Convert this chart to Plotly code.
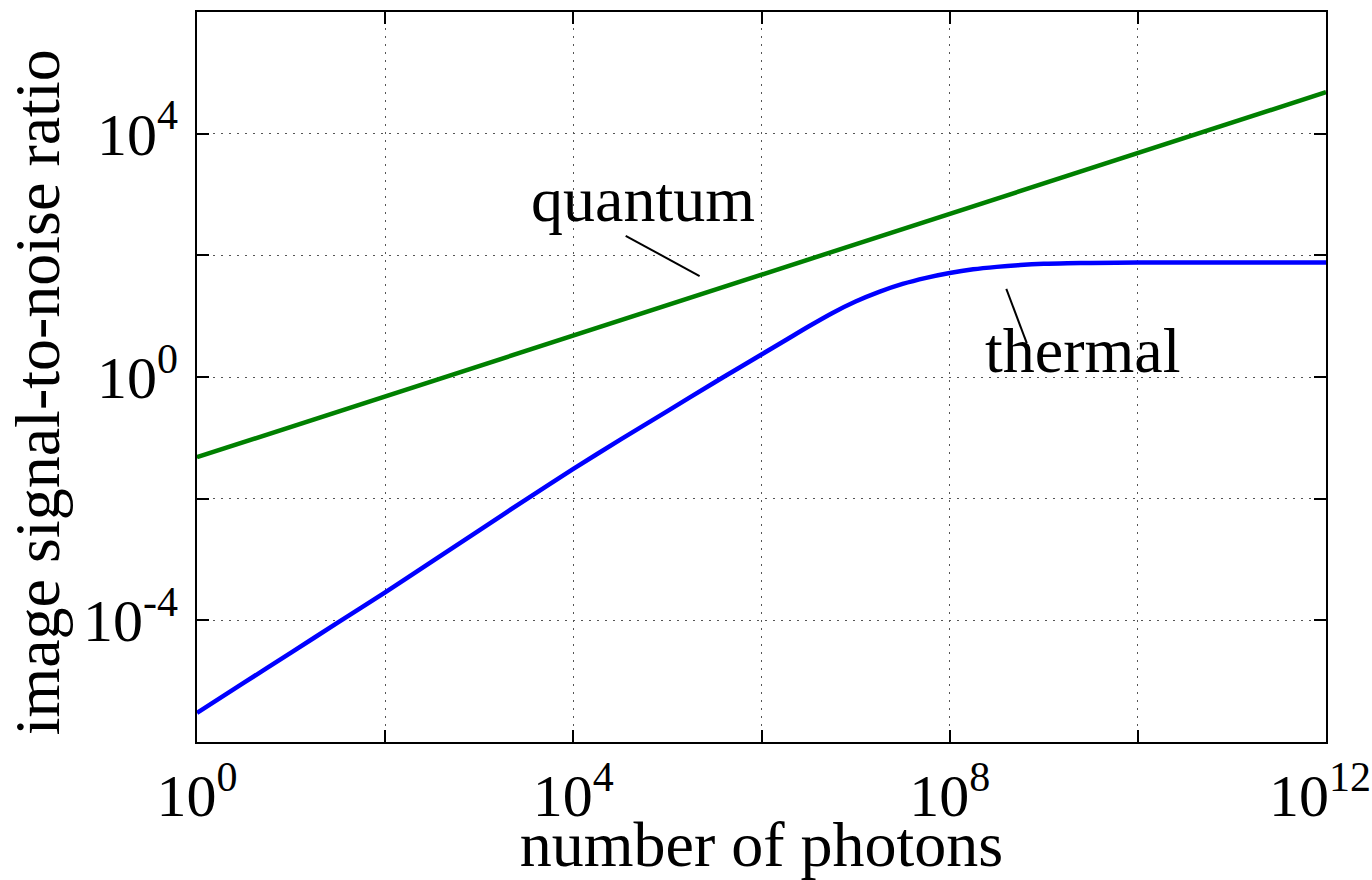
import plotly.graph_objects as go

# ---- data ----
quantum_photons = [1e0, 1e2, 1e4, 1e6, 1e8, 1e10, 1e12]
quantum_snr = [0.048, 0.48, 4.8, 48, 480, 4800, 48000]

thermal_photons = [1e0, 3.16e0, 1e1, 3.16e1, 1e2, 3.16e2, 1e3, 3.16e3, 1e4, 3.16e4,
                   1e5, 3.16e5, 5.62e5, 1e6, 1.78e6, 3.16e6, 5.62e6, 1e7, 1.78e7, 3.16e7,
                   5.62e7, 1e8, 1.78e8, 3.16e8, 5.62e8, 1e9, 1.78e9, 3.16e9,
                   1e10, 3.16e10, 1e11, 3.16e11, 1e12]
thermal_snr = [3.02e-6, 9.44e-6, 2.95e-5, 9.23e-5, 2.88e-4, 9.33e-4, 3.02e-3, 9.77e-3, 3.09e-2, 9.33e-2,
               0.275, 0.813, 1.38, 2.34, 3.98, 6.76, 11.2, 17.4, 25.1, 33.9,
               42.7, 51.3, 58.9, 64.6, 69.2, 72.4, 74.1, 75.0,
               75.9, 75.9, 75.9, 75.9, 75.9]

x_label_vals = [1e0, 1e4, 1e8, 1e12]
x_label_text = ["10<sup>0</sup>", "10<sup>4</sup>", "10<sup>8</sup>", "10<sup>12</sup>\u2009"]
x_minor_vals = [1e2, 1e6, 1e10]
y_label_vals = [1e-4, 1e0, 1e4]
y_label_text = ["10<sup>-4</sup>", "10<sup>0</sup>", "10<sup>4</sup>"]
y_minor_vals = [1e-2, 1e2]

FONT = "Liberation Serif, Times New Roman, serif"

fig = go.Figure()
fig.add_trace(go.Scatter(x=quantum_photons, y=quantum_snr, mode="lines",
                         line=dict(color="#008000", width=4.5), name="quantum",
                         showlegend=False))
fig.add_trace(go.Scatter(x=thermal_photons, y=thermal_snr, mode="lines",
                         line=dict(color="#0000ff", width=4.5, shape="spline", smoothing=0.8),
                         name="thermal", showlegend=False))
# pointer lines for the labels
fig.add_trace(go.Scatter(x=[3.6e4, 2.2e5], y=[209, 45.7], mode="lines",
                         line=dict(color="black", width=2), showlegend=False, hoverinfo="skip"))
fig.add_trace(go.Scatter(x=[4.0e8, 6.6e8], y=[28, 3.6], mode="lines",
                         line=dict(color="black", width=2), showlegend=False, hoverinfo="skip"))

grid = dict(showgrid=True, gridcolor="#555555", gridwidth=1.2, griddash="1.5px,6.5px")
tickstyle = dict(ticks="inside", ticklen=12, tickwidth=1.5, tickcolor="black")

axis_common = dict(
    type="log", showline=True, linecolor="black", linewidth=2, mirror="allticks",
    zeroline=False, automargin=False, ticklabeloverflow="allow",
    tickfont=dict(family=FONT, size=60, color="black"),
    **grid, **tickstyle,
)

fig.update_xaxes(**axis_common, range=[0, 12], tickmode="array",
                 tickvals=x_label_vals, ticktext=x_label_text,
                 minor=dict(tickmode="array", tickvals=x_minor_vals, **grid, **tickstyle),
                 title=dict(text="number of photons", font=dict(family=FONT, size=64, color="black"),
                            standoff=0))
fig.update_yaxes(**axis_common, range=[-6, 6], tickmode="array",
                 tickvals=y_label_vals, ticktext=y_label_text, ticklabelstandoff=5,
                 minor=dict(tickmode="array", tickvals=y_minor_vals, **grid, **tickstyle))

fig.add_annotation(x=-0.1417, y=0.479, xref="paper", yref="paper",
                   text="image signal-to-noise ratio", textangle=-90, showarrow=False,
                   font=dict(family=FONT, size=64, color="black"),
                   xanchor="center", yanchor="middle")
fig.add_annotation(x=4.745, y=2.91, xref="x", yref="y", text="quantum", showarrow=False,
                   font=dict(family=FONT, size=64, color="black"), xanchor="center", yanchor="middle")
fig.add_annotation(x=9.415, y=0.43, xref="x", yref="y", text="thermal", showarrow=False,
                   font=dict(family=FONT, size=64, color="black"), xanchor="center", yanchor="middle")

fig.update_layout(
    width=1372, height=880,
    margin=dict(l=197, r=46, t=12, b=138),
    plot_bgcolor="white", paper_bgcolor="white",
    font=dict(family=FONT, color="black"),
)

fig.write_html("out.html", config={"displayModeBar": False},
               post_script="document.body.style.margin='0';document.body.style.overflow='hidden';")
